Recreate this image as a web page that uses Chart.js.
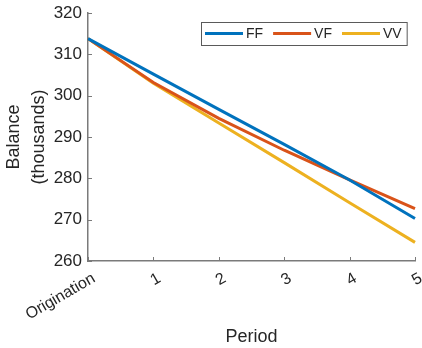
<!DOCTYPE html>
<html>
<head>
<meta charset="utf-8">
<script src="https://cdn.jsdelivr.net/npm/chart.js@4"></script>
<style>
  html, body { margin: 0; padding: 0; background: #fff; }
  canvas { display: block; }
</style>
</head>
<body>
<canvas id="chart" width="422" height="348"></canvas>
<script>
// dados
const periods = ['Origination', '1', '2', '3', '4', '5'];
const ffValues = [313.8, 305.2, 296.7, 288.2, 279.6, 270.3];
const vfValues = [313.8, 303.2, 294.5, 286.8, 279.6, 272.7];
const vvValues = [313.8, 303.0, 293.4, 283.8, 274.1, 264.5];
const yTicks = [260, 270, 280, 290, 300, 310, 320];

const textColor = '#262626';
const axisColor = '#7a7a7a';
const fontFamily = '"Liberation Sans", Arial, Helvetica, sans-serif';

// legenda e marcas de escala desenhadas à mão (estilo MATLAB)
const matlabLook = {
    id: 'matlabLook',
    afterDraw(chart) {
        const ctx = chart.ctx;
        const x = chart.scales.x;
        const y = chart.scales.y;
        const area = chart.chartArea;

        // marcas para dentro
        ctx.save();
        ctx.strokeStyle = axisColor;
        ctx.lineWidth = 1;
        yTicks.forEach(v => {
            const py = Math.round(y.getPixelForValue(v)) + 0.5;
            ctx.beginPath();
            ctx.moveTo(area.left, py);
            ctx.lineTo(area.left + 4, py);
            ctx.stroke();
        });
        periods.forEach((p, i) => {
            const px = Math.round(x.getPixelForValue(i)) + 0.5;
            ctx.beginPath();
            ctx.moveTo(px, area.bottom);
            ctx.lineTo(px, area.bottom - 4);
            ctx.stroke();
        });
        ctx.restore();

        // legenda
        ctx.save();
        ctx.font = '14px ' + fontFamily;
        ctx.textBaseline = 'middle';
        const boxLeft = 201, boxTop = 22, boxH = 23;
        const cy = boxTop + boxH / 2;
        let cx = boxLeft + 4;
        const items = chart.data.datasets.map(ds => {
            const item = { x: cx, label: ds.label, color: ds.borderColor };
            cx += 38 + 3 + ctx.measureText(ds.label).width + 10;
            return item;
        });
        const boxRight = cx - 10 + 5;
        ctx.fillStyle = '#fff';
        ctx.fillRect(boxLeft, boxTop, boxRight - boxLeft, boxH);
        ctx.strokeStyle = '#5a5a5a';
        ctx.lineWidth = 1;
        ctx.strokeRect(boxLeft + 0.5, boxTop + 0.5, boxRight - boxLeft, boxH);
        items.forEach(it => {
            ctx.strokeStyle = it.color;
            ctx.lineWidth = 3;
            ctx.beginPath();
            ctx.moveTo(it.x, cy);
            ctx.lineTo(it.x + 38, cy);
            ctx.stroke();
            ctx.fillStyle = textColor;
            ctx.fillText(it.label, it.x + 41, cy + 1);
        });
        ctx.restore();
    }
};

const chart = new Chart(document.getElementById('chart'), {
    type: 'line',
    data: {
        labels: periods,
        datasets: [
            { label: 'FF', data: ffValues, borderColor: '#0072BD' },
            { label: 'VF', data: vfValues, borderColor: '#D95319' },
            { label: 'VV', data: vvValues, borderColor: '#EDB120' }
        ]
    },
    options: {
        responsive: false,
        animation: false,
        devicePixelRatio: 1,
        layout: { padding: { top: 13, right: 7, left: 0, bottom: 0 } },
        elements: {
            line: { borderWidth: 3, tension: 0, fill: false },
            point: { radius: 0 }
        },
        datasets: { line: { clip: 6 } },
        plugins: {
            legend: { display: false },
            tooltip: { enabled: false }
        },
        scales: {
            x: {
                offset: false,
                grid: { display: false, drawTicks: false },
                border: { color: axisColor, width: 1.5 },
                ticks: {
                    autoSkip: false,
                    minRotation: 30,
                    maxRotation: 30,
                    padding: 8,
                    labelOffset: 6,
                    color: textColor,
                    font: { size: 16, family: fontFamily }
                },
                title: {
                    display: true,
                    text: 'Period',
                    color: textColor,
                    font: { size: 18, family: fontFamily },
                    padding: { top: 0, bottom: 0 }
                },
                afterFit(scale) {
                    scale.height = 87;
                    scale.paddingLeft = 0;
                    scale.paddingRight = 0;
                }
            },
            y: {
                min: 260,
                max: 320,
                grid: { display: false, drawTicks: false },
                border: { color: axisColor, width: 1.5 },
                afterBuildTicks(scale) {
                    scale.ticks = yTicks.map(v => ({ value: v }));
                },
                ticks: {
                    padding: 6,
                    color: textColor,
                    font: { size: 17, family: fontFamily }
                },
                title: {
                    display: true,
                    text: ['Balance', '(thousands)'],
                    color: textColor,
                    font: { size: 18, family: fontFamily, lineHeight: 1.42 },
                    padding: { top: 1, bottom: 0 }
                },
                afterFit(scale) {
                    scale.width = 88;
                    scale.paddingTop = 0;
                    scale.paddingBottom = 0;
                }
            }
        }
    },
    plugins: [matlabLook]
});
</script>
</body>
</html>
